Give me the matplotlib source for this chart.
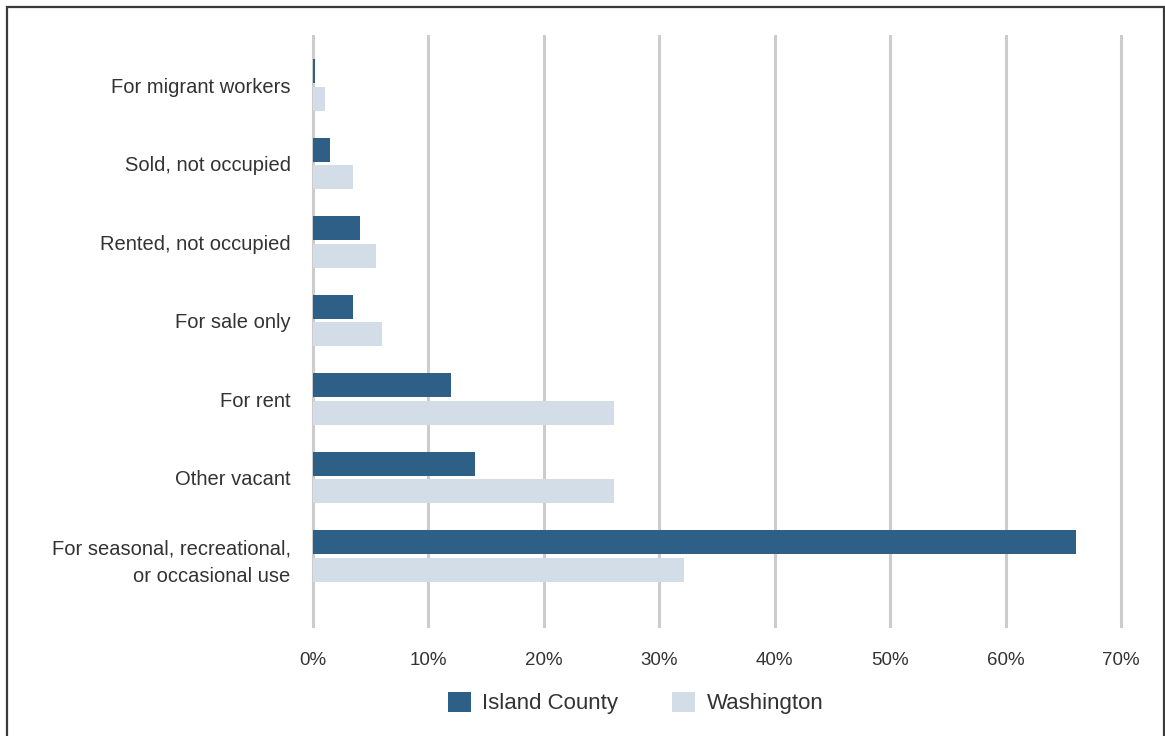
import matplotlib.pyplot as plt
import matplotlib.patches as patches
import numpy as np

plt.rcParams['font.family'] = ['Liberation Sans', 'DejaVu Sans']

categories = [
    "For migrant workers",
    "Sold, not occupied",
    "Rented, not occupied",
    "For sale only",
    "For rent",
    "Other vacant",
    "For seasonal, recreational,\nor occasional use",
]
island_county = [0.2, 1.5, 4.1, 3.5, 12.0, 14.0, 66.1]
washington = [1.0, 3.5, 5.5, 6.0, 26.1, 26.1, 32.1]
x_ticks = [0, 10, 20, 30, 40, 50, 60, 70]
series_names = ["Island County", "Washington"]

DARK = "#2e5f87"
LIGHT = "#d3dde7"
TEXT = "#333333"

W, H = 1165, 736
fig = plt.figure(figsize=(W / 100, H / 100), dpi=100)

# axes placed in pixel terms
left_px, right_px, top_px, bot_px = 307.2, 1126.8, 35, 628
ax = fig.add_axes([left_px / W, 1 - bot_px / H, (right_px - left_px) / W, (bot_px - top_px) / H])

y = np.arange(len(categories))
h = 0.306
off = 0.178
ax.barh(y - off, island_county, height=h, color=DARK, zorder=3)
ax.barh(y + off, washington, height=h, color=LIGHT, zorder=3)

ax.set_xlim(-0.5, 70.5)
ax.set_ylim(len(categories) - 1 + 0.917, -0.637)
for v in x_ticks:
    ax.axvline(v, color="#cccccc", lw=2.2, zorder=1)

ax.set_xticks(x_ticks)
ax.set_xticklabels([f"{v}%" for v in x_ticks])
ax.set_yticks(y)
ax.set_yticklabels(categories, linespacing=1.6)
ax.tick_params(axis="x", length=0, pad=17, labelsize=13.5, labelcolor=TEXT)
ax.tick_params(axis="y", length=0, pad=12, labelsize=14.5, labelcolor=TEXT)
for s in ax.spines.values():
    s.set_visible(False)

handles = [
    patches.Patch(facecolor=DARK, label=series_names[0]),
    patches.Patch(facecolor=LIGHT, label=series_names[1]),
]
fig.legend(handles=handles, loc="center", bbox_to_anchor=(635.5 / W, 1 - 703 / H), ncol=2,
           frameon=False, fontsize=16, handlelength=1.04, handleheight=1.04,
           handletextpad=0.5, columnspacing=2.45, labelcolor=TEXT,
           borderpad=0, borderaxespad=0)

# outer frame
fig.patches.append(patches.Rectangle((6.5 / W, -0.02), (1163.5 - 6.5) / W, 1 - 7 / H + 0.02,
                                     transform=fig.transFigure, fill=False,
                                     edgecolor="#3a3a3a", lw=1.6))

fig.savefig("out.png", dpi=100)
